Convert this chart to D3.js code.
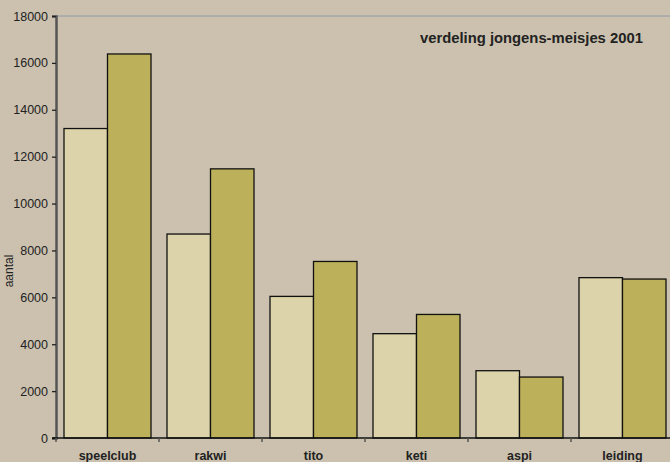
<!DOCTYPE html>
<html><head><meta charset="utf-8">
<script src="https://cdn.jsdelivr.net/npm/d3@7"></script>
<style>
html,body{margin:0;padding:0;background:#cbc1ae;}
svg{display:block;font-family:"Liberation Sans",Arial,sans-serif;}
</style></head>
<body>
<script>
const categories = ["speelclub","rakwi","tito","keti","aspi","leiding"];
const jongens = [13200, 8700, 6040, 4450, 2870, 6840];
const meisjes = [16380, 11480, 7530, 5270, 2600, 6780];
const yTicks = [0,2000,4000,6000,8000,10000,12000,14000,16000,18000];
const title = "verdeling jongens-meisjes 2001";
const yLabel = "aantal";

const W = 670, H = 462;
const m = {left:56, top:16, bottom:24};
const plotW = 103*6;
const svg = d3.select("body").append("svg").attr("width",W).attr("height",H);
svg.append("rect").attr("width",W).attr("height",H).attr("fill","#cbc1ae");

const x = d3.scaleBand().domain(categories).range([m.left, m.left+plotW]).paddingInner(0).paddingOuter(0);
const y = d3.scaleLinear().domain([0,18000]).range([H-m.bottom, m.top]);

// top gridline
svg.append("line").attr("x1",m.left).attr("x2",W).attr("y1",y(18000)).attr("y2",y(18000))
  .attr("stroke","#8e9aa6").attr("stroke-width",1);

const series = [jongens, meisjes];
const colors = ["#dcd3ab","#bdb05a"];
const g = svg.append("g");
categories.forEach((c,i)=>{
  series.forEach((s,j)=>{
    const bx = x(c) + 8 + j*(x.bandwidth()-16)/2;
    g.append("rect").attr("x",bx).attr("y",y(s[i]))
      .attr("width",(x.bandwidth()-16)/2).attr("height",y(0)-y(s[i]))
      .attr("fill",colors[j]).attr("stroke","#111").attr("stroke-width",1.3);
  });
});

// y axis
const ya = svg.append("g").attr("transform",`translate(${m.left},0)`)
  .call(d3.axisLeft(y).tickValues(yTicks).tickSize(4).tickPadding(4).tickFormat(d3.format("d")));
ya.select(".domain").attr("stroke","#555").attr("stroke-width",2.5);
ya.selectAll(".tick line").attr("stroke","#222").attr("stroke-width",1.3);
ya.selectAll("text").attr("font-size",12.5).attr("fill","#222").attr("font-family","Liberation Sans, Arial, sans-serif");

// x axis
const xa = svg.append("g").attr("transform",`translate(0,${y(0)})`);
xa.append("line").attr("x1",m.left-4).attr("x2",W).attr("stroke","#111").attr("stroke-width",1.5);
const bounds = categories.map(c=>x(c));
xa.selectAll("line.tk").data(bounds).enter().append("line").attr("class","tk")
  .attr("x1",d=>d).attr("x2",d=>d).attr("y1",0).attr("y2",4).attr("stroke","#555").attr("stroke-width",1.5);
xa.selectAll("text").data(categories).enter().append("text")
  .attr("x",d=>x(d)+x.bandwidth()/2).attr("y",21.5)
  .attr("text-anchor","middle").attr("font-size",12.5).attr("font-weight","bold").attr("fill","#222")
  .text(d=>d);

// title
svg.append("text").attr("x",420).attr("y",43).attr("font-size",14.8).attr("font-weight","bold")
  .attr("fill","#222").text(title);

// y label
svg.append("text").attr("transform","translate(13,271) rotate(-90)").attr("text-anchor","middle")
  .attr("font-size",12).attr("fill","#222").text(yLabel);
</script>
</body></html>
